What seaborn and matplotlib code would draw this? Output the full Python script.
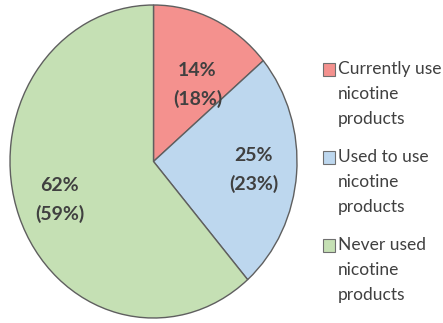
import matplotlib
matplotlib.use("Agg")
import matplotlib.pyplot as plt
import seaborn as sns
from matplotlib.patches import Rectangle

sns.set_theme(style="white")
plt.rcParams['font.family'] = ['Lato', 'DejaVu Sans']

categories = ["Currently use\nnicotine\nproducts",
              "Used to use\nnicotine\nproducts",
              "Never used\nnicotine\nproducts"]
values = [14, 25, 62]
prior_values = [18, 23, 59]
colors = ["#F4918E", "#BDD7EE", "#C5E0B4"]
edge = "#5F5F5F"
text_color = "#404040"

fig = plt.figure(figsize=(4.43, 3.23), dpi=100)
ax = fig.add_axes([10/443, 5/323, 287/443, 313/323])

wedges, texts, autotexts = ax.pie(
    values, colors=colors, startangle=90, counterclock=False,
    wedgeprops=dict(edgecolor=edge, linewidth=1.0),
    autopct=lambda p: "", pctdistance=0.7, radius=1.0)

for i, (t, v, pv) in enumerate(zip(autotexts, values, prior_values)):
    t.set_text(f"{v}%\n({pv}%)")
    t.set_fontsize(14)
    t.set_fontweight("bold")
    t.set_color(text_color)
    t.set_linespacing(1.7)
    t.set_ha("center")
    t.set_va("center")
# nudge the small slice label like the reference
autotexts[0].set_position((0.307, 0.49))

ax.set_aspect("auto")
ax.set_xlim(-1, 1)
ax.set_ylim(-1, 1)
ax.axis("off")

# legend drawn manually: handle aligned with first line
x_box = 323/443
x_txt = 338/443
tops = [63, 151, 239]
for c, lab, top in zip(colors, categories, tops):
    yb = 1 - (top + 13)/323
    fig.patches.append(Rectangle((x_box, yb), 12/443, 13/323, transform=fig.transFigure,
                                 facecolor=c, edgecolor="#6F6F6F", linewidth=0.8))
    fig.text(x_txt, 1 - (top - 2)/323, lab, ha="left", va="top", fontsize=12.5,
             color=text_color, linespacing=1.7)

fig.savefig("out.png", dpi=100)
